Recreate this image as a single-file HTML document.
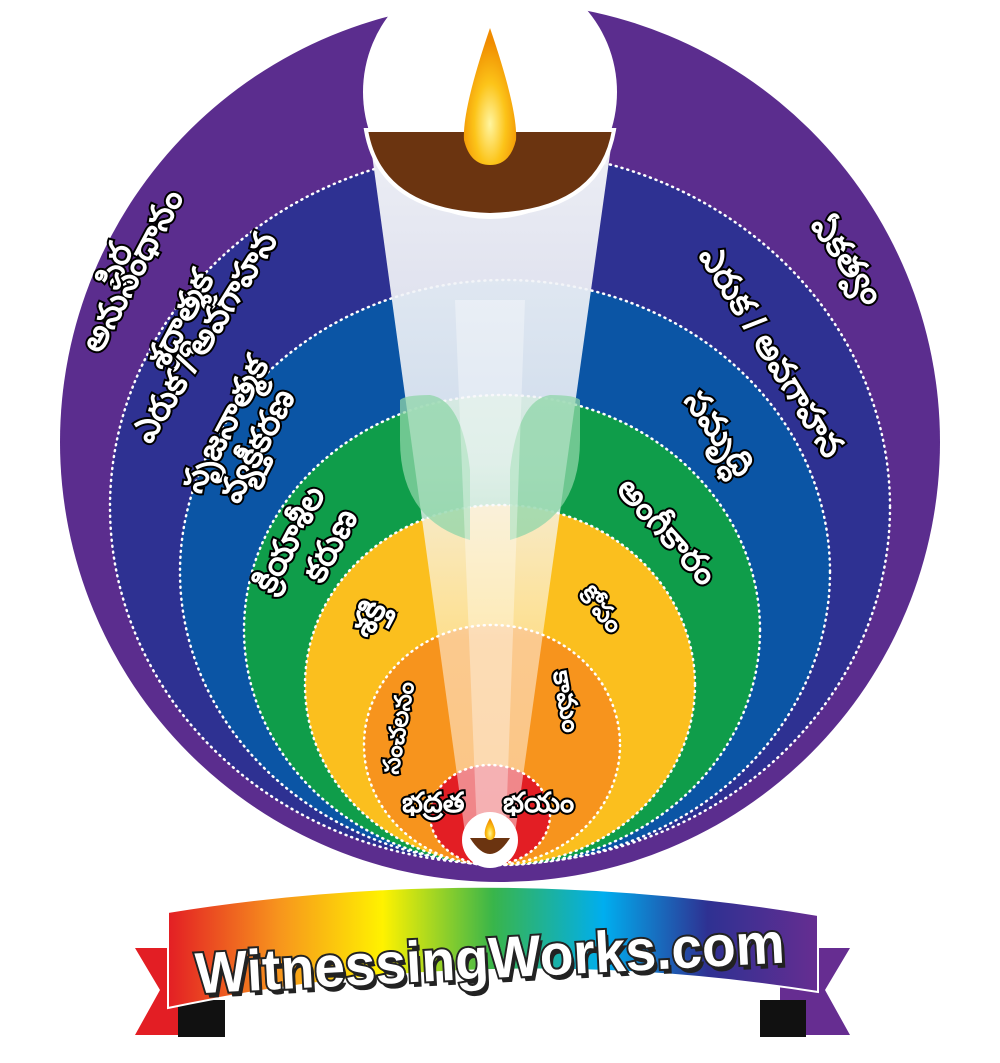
<!DOCTYPE html>
<html><head><meta charset="utf-8"><style>
html,body{margin:0;padding:0;background:#fff;}
svg{display:block}
.t{font-family:"Liberation Sans","Noto Sans CJK SC",sans-serif;font-weight:bold;fill:#fff;stroke:#000;stroke-width:4;paint-order:stroke;}
</style></head><body>
<svg width="1000" height="1063" viewBox="0 0 1000 1063" xmlns="http://www.w3.org/2000/svg">
<defs>
<linearGradient id="rb" x1="0" x2="1" y1="0" y2="0">
<stop offset="0" stop-color="#e31e24"/><stop offset="0.17" stop-color="#f7941d"/>
<stop offset="0.33" stop-color="#fff200"/><stop offset="0.5" stop-color="#39b54a"/>
<stop offset="0.67" stop-color="#00aeef"/><stop offset="0.83" stop-color="#2e3192"/>
<stop offset="1" stop-color="#662d91"/></linearGradient>
<linearGradient id="bm" x1="0" x2="0" y1="0" y2="1">
<stop offset="0" stop-color="#f2f4f8" stop-opacity="0.97"/>
<stop offset="0.45" stop-color="#f2f4f8" stop-opacity="0.85"/>
<stop offset="0.7" stop-color="#fff" stop-opacity="0.5"/>
<stop offset="1" stop-color="#fff" stop-opacity="0.45"/></linearGradient>
<radialGradient id="fl" cx="0.5" cy="0.7" r="0.6"><stop offset="0" stop-color="#fff5a0"/><stop offset="0.5" stop-color="#fcc419"/><stop offset="1" stop-color="#f08c00"/></radialGradient>
</defs>
<circle cx="500" cy="442" r="440" fill="#5b2d8e"/>
<g stroke="#fff" stroke-width="2.5" stroke-dasharray="1 5" stroke-linecap="round">
<ellipse cx="500" cy="507" rx="390" ry="357" fill="#2e3192"/>
<ellipse cx="505" cy="572" rx="325" ry="292" fill="#0b55a5"/>
<ellipse cx="502" cy="630" rx="258" ry="235" fill="#0f9d4a"/>
<ellipse cx="500" cy="685" rx="195" ry="180" fill="#fbbf1e"/>
<ellipse cx="492" cy="745" rx="128" ry="120" fill="#f7941d"/>
<ellipse cx="490" cy="815" rx="60" ry="50" fill="#e31e24"/>
</g>
<polygon points="370,140 612,140 512,855 468,855" fill="url(#bm)"/>
<path d="M400 400 Q405 395 430 395 Q462 400 470 470 L470 540 Q400 520 400 440 Z" fill="#8fd6a8" opacity="0.75"/>
<path d="M580 400 Q575 395 550 395 Q518 400 510 470 L510 540 Q580 520 580 440 Z" fill="#8fd6a8" opacity="0.75"/>
<polygon points="455,300 525,300 505,855 478,855" fill="#fff" opacity="0.35"/>
<circle cx="490" cy="840" r="28" fill="#fff"/>
<path d="M470 838 Q490 870 510 838 Z" fill="#6b3410"/>
<path d="M490 818 Q482 832 486 838 Q490 842 494 838 Q498 832 490 818 Z" fill="url(#fl)"/>
<circle cx="490" cy="92" r="127" fill="#fff"/>
<path d="M366 130 L614 130 Q600 212 490 215 Q380 212 366 130 Z" fill="#6b3410" stroke="#fff" stroke-width="4"/>
<path d="M490 28 Q462 110 464 140 Q470 165 490 165 Q510 165 516 140 Q518 110 490 28 Z" fill="url(#fl)"/>
<g class="t" font-size="34">
<text transform="translate(118,290) rotate(-70)">స్థిర</text>
<text transform="translate(100,355) rotate(-62)">అనుసంధానం</text>
<text transform="translate(165,372) rotate(-62)">శ్రద్ధాత్మక</text>
<text transform="translate(150,445) rotate(-58)">ఎరుక / అవగాహన</text>
<text transform="translate(200,495) rotate(-62)">సృజనాత్మక</text>
<text transform="translate(238,505) rotate(-62)">వ్యక్తీకరణ</text>
<text transform="translate(272,595) rotate(-62)">క్రియాశీల</text>
<text transform="translate(322,585) rotate(-62)">కరుణ</text>
<text transform="translate(370,640) rotate(-62)">శక్తి</text>
<text transform="translate(398,775) rotate(-80)" font-size="24">సంచలనం</text>
<text x="402" y="812" font-size="28">భద్రత</text>
<text x="503" y="812" font-size="28">భయం</text>
<text transform="translate(553,672) rotate(80)" font-size="26">కామం</text>
<text transform="translate(578,595) rotate(50)" font-size="26">కోపం</text>
<text transform="translate(615,490) rotate(48)">అంగీకారం</text>
<text transform="translate(683,400) rotate(55)">సమృద్ధి</text>
<text transform="translate(698,255) rotate(58)">ఎరుక / అవగాహన</text>
<text transform="translate(810,225) rotate(55)">ఏకత్వం</text>
</g>
<polygon points="135,948 205,948 205,1035 135,1035 160,990" fill="#e31e24"/>
<polygon points="850,948 780,948 780,1035 850,1035 825,990" fill="#662d91"/>
<polygon points="178,1000 225,1000 225,1037 178,1037" fill="#111"/>
<polygon points="760,1000 806,1000 806,1037 760,1037" fill="#111"/>
<path d="M168 912 Q490 860 818 915 L818 992 Q490 940 168 1008 Z" fill="url(#rb)" stroke="#fff" stroke-width="2"/>
<g transform="rotate(-3 490 960)" font-family="Liberation Sans,sans-serif" font-weight="bold" font-size="58" text-anchor="middle">
<text x="493" y="983" fill="#222" textLength="590" lengthAdjust="spacingAndGlyphs">WitnessingWorks.com</text>
<text x="490" y="978" fill="#fff" stroke="#222" stroke-width="4" paint-order="stroke" textLength="590" lengthAdjust="spacingAndGlyphs">WitnessingWorks.com</text>
</g>
</svg>
</body></html>
